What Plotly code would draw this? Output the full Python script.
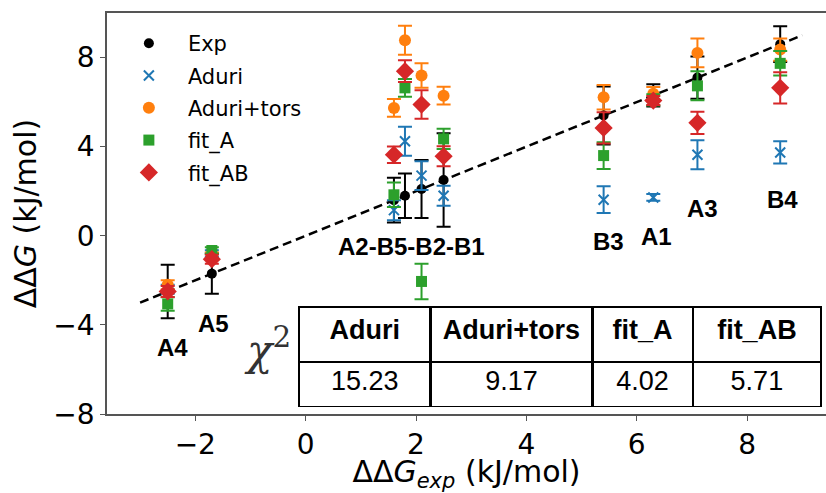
import plotly.graph_objects as go

# ---------------- data ----------------
ligands = ["A4", "A5", "A2", "B5", "B2", "B1", "B3", "A1", "A3", "B4"]
exp_vals = [-2.5, -1.7, 1.6, 1.8, 2.1, 2.5, 5.4, 6.3, 7.1, 8.6]
exp_err = [1.2, 0.9, 1.0, 1.0, 1.3, 2.1, 1.3, 0.5, 0.95, 0.8]

aduri = [-2.4, -0.8, 1.15, 4.24, 2.7, 1.8, 1.62, 1.72, 3.64, 3.74]
aduri_err = [0.2, 0.15, 0.45, 0.65, 0.65, 0.45, 0.6, 0.15, 0.65, 0.5]

tors = [-2.2, -0.9, 5.74, 8.78, 7.19, 6.29, 6.22, 6.38, 8.21, 8.36]
tors_err = [0.2, 0.15, 0.4, 0.65, 0.55, 0.4, 0.55, 0.3, 0.65, 0.5]

fit_a = [-3.06, -0.66, 1.84, 6.64, -2.05, 4.35, 3.60, 6.1, 6.73, 7.74]
fit_a_err = [0.3, 0.15, 0.55, 0.4, 0.8, 0.45, 0.6, 0.25, 0.65, 0.55]

fit_ab = [-2.5, -1.05, 3.64, 7.39, 5.89, 3.57, 4.84, 6.07, 5.07, 6.64]
fit_ab_err = [0.25, 0.2, 0.37, 0.49, 0.64, 0.45, 0.7, 0.2, 0.5, 0.7]

diag = [-3, 9]

label_text = ["A4", "A5", "A2-B5-B2-B1", "B3", "A1", "A3", "B4"]
label_x = [-2.42, -1.67, 1.91, 5.48, 6.36, 7.19, 8.64]
label_y = [-5.03, -3.93, -0.48, -0.26, -0.03, 1.24, 1.62]

chi_headers = ["Aduri", "Aduri+tors", "fit_A", "fit_AB"]
chi_values = ["15.23", "9.17", "4.02", "5.71"]
chi_colwidth = [131.7, 162, 100.6, 128.4]

xticks = [-2, 0, 2, 4, 6, 8]
yticks = [-8, -4, 0, 4, 8]

# ---------------- figure ----------------
fig = go.Figure()

fig.add_trace(go.Scatter(x=diag, y=diag, mode="lines", showlegend=False,
                         line=dict(color="black", width=2.5, dash="9px,5px"),
                         hoverinfo="skip"))

series = [
    ("Exp", exp_vals, exp_err, "black", "circle", 10, None),
    ("Aduri", aduri, aduri_err, "#1f77b4", "x-thin", 10, 2),
    ("Aduri+tors", tors, tors_err, "#ff7f0e", "circle", 12, None),
    ("fit_A", fit_a, fit_a_err, "#2ca02c", "square", 11, None),
    ("fit_AB", fit_ab, fit_ab_err, "#d62728", "diamond", 14, None),
]
for i, (name, vals, errs, col, sym, size, lw) in enumerate(series):
    marker = dict(color=col, symbol=sym, size=size)
    if lw:
        marker["line"] = dict(color=col, width=lw)
    else:
        marker["line"] = dict(width=0)
    fig.add_trace(go.Scatter(
        x=exp_vals, y=vals, mode="markers", name=name, marker=marker,
        legendgroup=name,
        error_y=dict(type="data", array=errs, visible=True, color=col,
                     thickness=2, width=7),
    ))

for t, x, y in zip(label_text, label_x, label_y):
    fig.add_annotation(x=x, y=y, text=f"<b>{t}</b>", showarrow=False,
                       font=dict(family="Liberation Sans", size=24, color="black"))

fig.add_annotation(x=-0.7, y=-5.0, text="<i>χ</i><sup>2</sup>", showarrow=False,
                   font=dict(family="DejaVu Serif", size=42, color="#333"))

L, R, T, B = 107, 0, 13, 79
W, H = 826, 493
pw, ph = W - L - R, H - T - B
tx0, tx1, ty0, ty1 = 299, 821.7, 307, 408
fig.add_trace(go.Table(
    domain=dict(x=[(tx0 - L) / pw, (tx1 - L) / pw],
                y=[(H - B - ty1) / ph, (H - B - ty0) / ph]),
    columnwidth=chi_colwidth,
    header=dict(values=[f"<b>{h}</b>" for h in chi_headers], height=55,
                align="center", fill_color="white",
                line=dict(color="black", width=2.5),
                font=dict(family="Liberation Sans", size=27, color="black")),
    cells=dict(values=[[v] for v in chi_values], height=45,
               align="center", fill_color="white",
               line=dict(color="black", width=2.5),
               font=dict(family="Liberation Sans", size=27, color="black")),
))

fig.update_layout(
    width=W, height=H,
    margin=dict(l=L, r=R, t=T, b=B),
    plot_bgcolor="white", paper_bgcolor="white",
    font=dict(family="DejaVu Sans", color="black"),
    showlegend=True,
    legend=dict(x=0.004, y=0.975, xanchor="left", yanchor="top",
                font=dict(family="DejaVu Sans", size=21, color="black"),
                bgcolor="rgba(255,255,255,0)", tracegroupgap=2,
                itemwidth=68),
    xaxis=dict(range=[-3.6, 9.43], tickvals=xticks, showgrid=False, zeroline=False,
               showline=True, linecolor="#555", linewidth=1.5, mirror=True,
               ticks="outside", ticklen=5, tickcolor="#555",
               tickfont=dict(family="DejaVu Sans", size=28),
               title=dict(text="ΔΔ<i>G</i><sub><i>exp</i></sub> (kJ/mol)",
                          font=dict(family="DejaVu Sans", size=30), standoff=10)),
    yaxis=dict(range=[-8, 10], tickvals=yticks, showgrid=False, zeroline=False,
               showline=True, linecolor="#555", linewidth=1.5,
               ticks="outside", ticklen=5, tickcolor="#555",
               tickfont=dict(family="DejaVu Sans", size=28),
               title=dict(text="ΔΔ<i>G</i> (kJ/mol)",
                          font=dict(family="DejaVu Sans", size=30), standoff=8)),
)

fig.write_html("out.html")
